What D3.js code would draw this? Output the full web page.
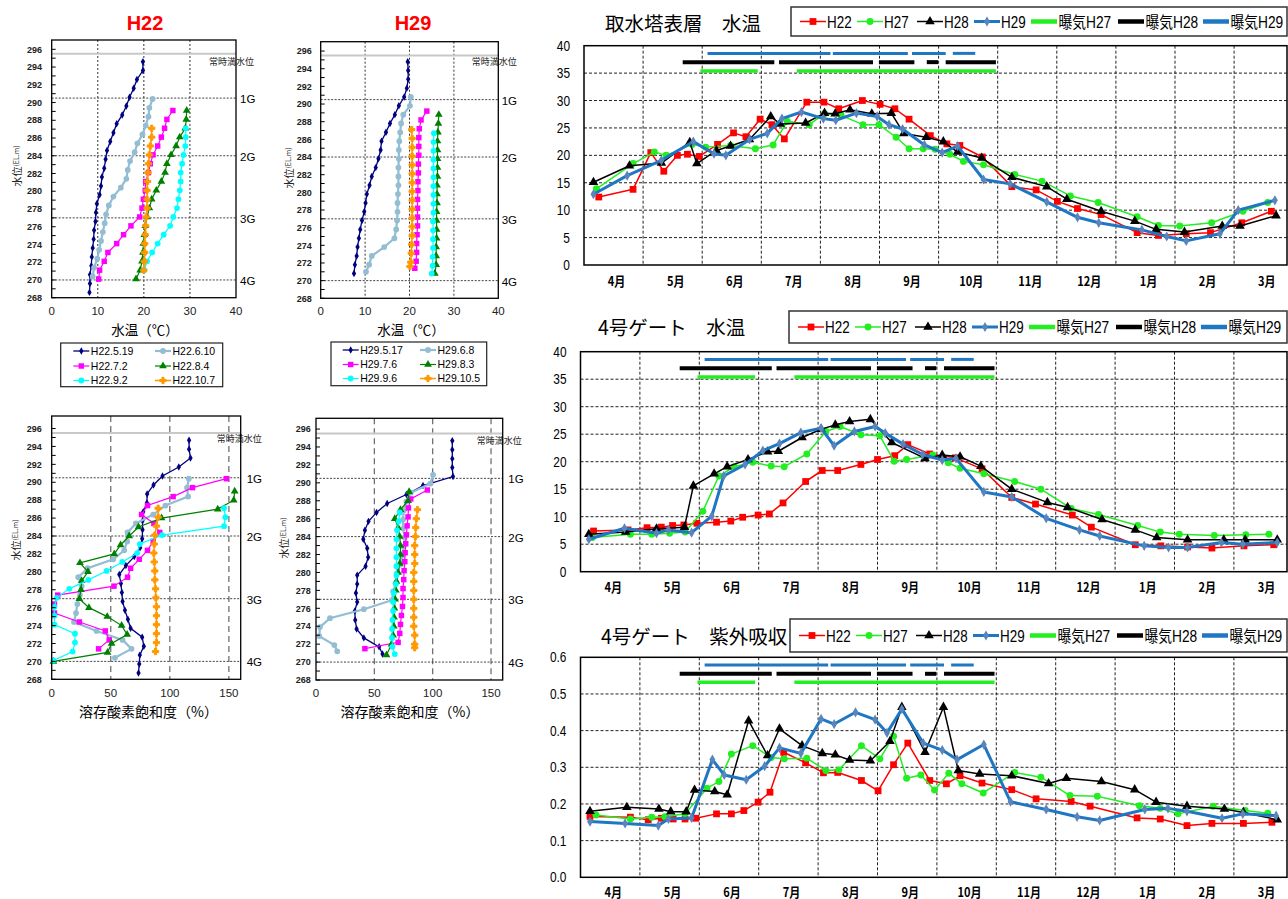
<!DOCTYPE html>
<html>
<head>
<meta charset="utf-8">
<script src="https://cdn.jsdelivr.net/npm/d3@7"></script>
<style>
  body { margin: 0; background: #fff; }
  svg { display: block; }
</style>
</head>
<body>
<script>
// ---------- Vertical profiles (elevation EL.m vs value) ----------
const gateNames = ['1G', '2G', '3G', '4G'];
const gateLevels = [290.5, 284, 277, 270];
const fullWaterLevel = 295.5;
const elevTicks = [268, 270, 272, 274, 276, 278, 280, 282, 284, 286, 288, 290, 292, 294, 296];

const h22Dates = ['H22.5.19', 'H22.6.10', 'H22.7.2', 'H22.8.4', 'H22.9.2', 'H22.10.7'];
const h29Dates = ['H29.5.17', 'H29.6.8', 'H29.7.6', 'H29.8.3', 'H29.9.6', 'H29.10.5'];

// H22 water temperature profiles
const h22TempElev = [
  [294.6,293.6,292.6,291.6,290.6,289.6,288.6,287.6,286.6,285.6,284.6,283.6,282.6,281.6,280.6,279.6,278.6,277.6,276.6,275.6,274.6,273.6,272.6,271.6,270.6,269.6,268.6],
  [290.4,289.4,288.4,287.4,286.4,285.4,284.4,283.4,282.4,281.4,280.4,279.4,278.4,277.4,276.4,275.4,274.4,273.4,272.4,271.4,270.4],
  [289.1,288.1,287.1,286.1,285.1,284.1,283.1,282.1,281.1,280.1,279.1,278.1,277.1,276.1,275.1,274.1,273.1,272.1,271.1,270.1],
  [289.1,288.1,287.1,286.1,285.1,284.1,283.1,282.1,281.1,280.1,279.1,278.1,277.1,276.1,275.1,274.1,273.1,272.1,271.1,270.1],
  [287.1,286.1,285.1,284.1,283.1,282.1,281.1,280.1,279.1,278.1,277.1,276.1,275.1,274.1,273.1,272.1,271.1],
  [287.1,286.1,285.1,284.1,283.1,282.1,281.1,280.1,279.1,278.1,277.1,276.1,275.1,274.1,273.1,272.1,271.1]
];
const h22Temp = [
  [19.8,19.8,18.5,17.8,16.9,16.2,15.3,14.1,13.4,12.7,12.0,11.7,11.4,10.9,10.7,10.4,9.8,9.6,9.5,9.2,9.1,8.9,8.7,8.6,8.3,8.3,8.2],
  [21.9,21.2,21.0,20.4,19.7,18.6,18.0,17.0,16.5,16.2,15.0,13.4,12.4,11.8,11.5,11.1,10.7,10.3,9.9,9.2,8.9],
  [26.3,25.0,24.5,23.8,23.0,22.0,21.4,21.0,20.4,20.3,19.9,19.6,19.1,17.2,15.6,14.1,12.2,11.4,10.4,10.2],
  [29.3,29.2,29.0,27.8,27.0,25.9,25.0,24.6,23.8,22.7,21.7,21.2,20.7,20.3,20.1,19.9,19.8,19.6,19.2,18.3],
  [29.1,29.1,29.0,28.6,28.3,28.0,28.0,27.8,27.5,27.2,26.4,25.7,24.3,23.0,21.8,20.7,20.1],
  [21.7,21.7,21.4,21.2,21.0,20.9,20.8,20.7,20.7,20.7,20.5,20.4,20.3,20.2,20.2,20.1,20.0]
];

// H29 water temperature profiles
const h29TempElev = [
  [294.8,293.8,292.8,291.8,290.8,289.8,288.8,287.8,286.8,285.8,284.8,283.8,282.8,281.8,280.8,279.8,278.8,277.8,276.8,275.8,274.8,273.8,272.8,271.8,270.8],
  [290.8,289.8,288.8,287.8,286.8,285.8,284.8,283.8,282.8,281.8,280.8,279.8,278.8,277.8,276.8,275.8,274.8,273.8,272.8,271.8,271.0],
  [289.2,288.2,287.2,286.2,285.2,284.2,283.2,282.2,281.2,280.2,279.2,278.2,277.2,276.2,275.2,274.2,273.2,272.2,271.4],
  [288.8,287.8,286.8,285.8,284.8,283.8,282.8,281.8,280.8,279.8,278.8,277.8,276.8,275.8,274.8,273.8,272.8,271.8,270.8],
  [286.7,285.7,284.7,283.7,282.7,281.7,280.7,279.7,278.7,277.7,276.7,275.7,274.7,273.7,272.7,271.7,270.8],
  [287.1,286.1,285.1,284.1,283.1,282.1,281.1,280.1,279.1,278.1,277.1,276.1,275.1,274.1,273.1,272.1,271.6]
];
const h29Temp = [
  [19.6,19.7,19.7,19.4,18.8,17.6,16.7,15.6,14.7,13.7,13.5,13.0,12.4,11.5,11.0,10.4,10.1,9.8,9.3,8.9,8.6,8.3,8.1,7.7,7.5],
  [20.3,20.1,18.6,18.1,17.9,17.7,17.6,17.6,17.5,17.5,17.5,17.4,17.3,17.3,17.2,17.0,16.6,14.3,11.5,10.9,10.2],
  [23.9,22.6,22.2,22.1,22.1,22.1,22.0,22.0,21.9,21.9,21.8,21.8,21.8,21.8,21.7,21.6,21.6,21.5,21.2],
  [26.6,26.5,26.4,26.3,26.3,26.3,26.3,26.3,26.2,26.2,26.2,26.1,26.1,26.1,26.1,26.0,26.0,26.0,25.7],
  [25.5,25.4,25.4,25.4,25.4,25.4,25.4,25.4,25.4,25.4,25.3,25.3,25.3,25.3,25.2,25.2,25.0],
  [20.5,20.6,20.6,20.6,20.6,20.6,20.6,20.6,20.6,20.6,20.6,20.6,20.6,20.5,20.4,20.3,20.1]
];

// H22 dissolved oxygen saturation profiles (%)
const h22DoElev = [
  [294.7,293.7,292.7,291.7,290.7,289.7,288.7,287.7,286.7,285.7,284.7,283.7,282.7,281.7,280.7,279.7,278.7,277.7,276.7,275.7,274.7,273.7,272.7,271.7,270.7,269.7,268.7],
  [290.4,289.4,288.4,287.4,286.4,285.4,284.4,283.4,282.4,281.4,280.4,279.4,278.4,277.4,276.4,275.4,274.4,273.4,272.4,271.4,270.4],
  [290.4,289.4,288.4,287.4,286.4,285.4,284.4,283.4,282.4,281.4,280.4,279.4,278.4,277.4,276.4,275.4,274.4,273.4,272.4,271.4],
  [289.0,288.0,287.0,286.0,285.0,284.0,283.0,282.0,281.0,280.0,279.0,278.0,277.0,276.0,275.0,274.0,273.0,272.0,271.0,270.0],
  [287.1,286.1,285.1,284.1,283.1,282.1,281.1,280.1,279.1,278.1,277.1,276.1,275.1,274.1,273.1,272.1,271.1,270.1],
  [287.1,286.1,285.1,284.1,283.1,282.1,281.1,280.1,279.1,278.1,277.1,276.1,275.1,274.1,273.1,272.1,271.1]
];
const h22Do = [
  [116.3,116.3,117.5,107.6,93.8,86.2,80.8,80.6,77.5,76.9,76.9,76.6,74.9,69.9,62.8,57.2,58.6,59.4,60.0,62.0,64.5,66.8,76.6,78.0,74.6,74.1,73.5],
  [116.1,114.6,115.5,96.3,85.9,71.3,64.2,63.9,61.4,52.1,30.4,22.5,25.4,23.9,21.7,20.6,18.9,38.0,60.0,67.6,53.5],
  [147.9,119.2,102.8,81.1,76.1,86.5,91.5,85.9,81.1,74.1,66.8,64.2,52.7,5.1,2.3,2.3,23.4,45.4,48.7,39.7],
  [154.9,154.1,140.6,93.0,73.5,65.6,58.3,53.0,23.9,30.7,25.4,24.8,23.4,31.5,47.0,59.2,63.9,50.7,47.3,1.4],
  [145.9,147.0,145.9,93.5,74.6,72.4,59.7,46.5,31.0,14.9,4.2,2.3,2.3,2.3,19.7,19.7,17.7,1.4],
  [90.1,90.1,88.7,87.3,86.8,86.5,86.8,87.3,87.3,87.9,88.2,88.7,88.7,88.7,88.7,88.7,87.9]
];

// H29 dissolved oxygen saturation profiles (%)
const h29DoElev = [
  [294.7,293.7,292.7,291.7,290.7,289.7,288.7,287.7,286.7,285.7,284.7,283.7,282.7,281.7,280.7,279.7,278.7,277.7,276.7,275.7,274.7,273.7,272.7,271.7,270.9],
  [290.9,289.9,288.9,287.9,286.9,285.9,284.9,283.9,282.9,281.9,280.9,279.9,278.9,277.9,276.9,275.9,274.9,273.9,272.9,271.9,271.2],
  [289.2,288.2,287.2,286.2,285.2,284.2,283.2,282.2,281.2,280.2,279.2,278.2,277.2,276.2,275.2,274.2,273.2,272.2,271.5],
  [289.0,288.0,287.0,286.0,285.0,284.0,283.0,282.0,281.0,280.0,279.0,278.0,277.0,276.0,275.0,274.0,273.0,272.0,270.8],
  [286.7,285.7,284.7,283.7,282.7,281.7,280.7,279.7,278.7,277.7,276.7,275.7,274.7,273.7,272.7,271.7,270.9],
  [287.0,286.0,285.0,284.0,283.0,282.0,281.0,280.0,279.0,278.0,277.0,276.0,275.0,274.0,273.0,272.0,271.6]
];
const h29Do = [
  [116.8,116.8,116.8,116.8,117.4,91.7,77.5,61.0,51.9,45.0,41.9,40.5,43.9,44.7,42.5,35.3,35.3,34.2,35.3,33.3,33.6,34.8,41.0,54.1,57.0],
  [100.3,98.0,81.2,77.5,75.2,74.6,74.6,76.1,75.2,74.1,72.4,69.5,68.9,66.1,65.0,41.0,12.0,3.4,2.8,15.7,18.2],
  [95.4,81.2,79.2,78.9,78.1,77.5,76.9,76.4,76.1,75.5,75.2,74.6,74.6,74.1,73.2,72.4,71.8,70.4,41.9],
  [79.8,78.9,72.4,67.5,70.4,71.8,72.4,72.4,71.8,70.4,68.9,68.4,67.8,67.2,66.9,66.7,66.1,64.7,60.4],
  [71.8,70.9,69.5,68.9,68.9,68.9,68.9,68.9,68.4,66.7,66.1,66.1,65.5,65.2,65.2,65.5,67.5],
  [86.9,86.0,85.5,85.2,84.6,84.6,84.6,83.8,83.8,83.8,83.8,83.8,83.8,83.8,84.6,84.6,84.6]
];

// ---------- Yearly time series (x = months elapsed since 1 April) ----------
const months = ['4月', '5月', '6月', '7月', '8月', '9月', '10月', '11月', '12月', '1月', '2月', '3月'];
const seriesNames = ['H22', 'H27', 'H28', 'H29'];
const aerationNames = ['曝気H27', '曝気H28', '曝気H29'];

// aeration periods (start, end) in months since 1 April
const aerationH27 = [[1.97, 2.94], [3.60, 6.97]];
const aerationH28 = [[1.67, 3.22], [3.30, 4.89], [4.99, 5.59], [5.80, 5.99], [6.12, 6.97]];
const aerationH29 = [[2.09, 4.17], [4.21, 5.48], [5.55, 6.12], [6.24, 6.62]];

// intake tower, surface layer water temperature (℃)
const towerH22x = [0.25,0.83,1.13,1.35,1.58,1.75,1.95,2.26,2.53,2.74,2.98,3.18,3.39,3.77,4.06,4.31,4.71,5.01,5.26,5.50,5.86,6.14,6.36,6.74,7.24,7.65,8.01,8.35,8.75,9.36,9.72,10.19,10.6,11.13,11.63];
const towerH22 = [12.4,13.8,20.5,17.1,20.0,20.2,19.8,22.0,24.1,23.4,26.6,25.6,23.0,29.7,29.7,28.5,30.0,29.3,28.5,26.6,23.6,22.1,21.8,19.7,14.3,13.7,11.6,10.3,9.2,5.9,5.4,5.7,5.9,7.7,9.8];
const towerH27x = [0.21,0.83,1.19,1.39,1.83,2.06,2.48,2.90,3.20,3.44,3.81,4.07,4.35,4.72,4.99,5.28,5.50,5.74,5.94,6.19,6.42,6.76,7.29,7.75,8.23,8.70,9.36,9.72,10.08,10.62,11.15,11.57];
const towerH27 = [13.9,18.5,20.6,20.0,22.0,21.5,21.8,21.2,21.9,26.2,25.6,27.6,27.3,25.6,25.6,23.3,21.2,21.2,21.1,20.2,18.9,18.3,16.5,15.3,12.6,11.4,8.8,7.2,7.1,7.7,9.8,11.4];
const towerH28x = [0.16,0.77,1.31,1.79,1.91,2.24,2.48,2.80,3.16,3.32,3.75,4.07,4.25,4.50,4.87,5.20,5.41,5.79,6.08,6.32,6.73,7.24,7.83,8.17,8.75,9.32,9.68,10.16,10.8,11.1,11.71];
const towerH28 = [15.1,18.1,18.6,22.4,18.5,20.9,21.7,22.9,27.1,25.7,25.9,27.7,27.6,28.3,27.6,27.7,24.0,23.3,22.5,20.6,19.5,16.0,14.3,12.0,9.8,8.0,6.5,6.0,7.1,7.1,9.0];
const towerH29x = [0.16,0.73,1.31,1.85,2.2,2.40,2.80,3.10,3.35,3.68,4.05,4.26,4.61,4.96,5.16,5.39,5.76,6.06,6.32,6.76,7.21,7.83,8.35,8.71,9.44,9.86,10.19,10.76,11.07,11.69];
const towerH29 = [12.9,16.3,19.1,22.5,20.3,20.0,22.9,24.0,26.7,27.9,26.7,26.4,27.7,27.1,25.6,24.8,21.9,20.5,21.7,15.6,14.8,11.5,8.7,7.7,6.4,5.2,4.4,5.7,10.0,11.8];

// No.4 gate water temperature (℃)
const gateTempH22x = [0.22,0.80,1.12,1.36,1.55,1.74,1.96,2.29,2.53,2.73,2.99,3.18,3.41,3.79,4.07,4.33,4.72,5.0,5.29,5.51,5.88,6.31,6.76,7.26,7.66,8.28,8.6,9.34,9.77,10.22,10.63,11.17,11.67];
const gateTempH22 = [7.4,7.6,8.0,8.1,8.4,8.5,8.8,9.0,9.2,9.9,10.3,10.5,12.5,16.4,18.4,18.4,19.5,20.4,21.1,23.1,21.4,20.7,18.7,13.5,12.3,10.3,8.1,4.9,4.7,4.5,4.3,4.7,4.9];
const gateTempH27x = [0.2,0.84,1.2,1.5,1.76,2.06,2.33,2.59,2.90,3.21,3.43,3.81,4.13,4.37,4.72,5.04,5.28,5.49,5.93,6.19,6.39,6.79,7.31,7.75,8.26,8.72,9.38,9.76,10.08,10.67,11.2,11.59];
const gateTempH27 = [6.2,6.8,6.8,7.0,7.2,11.0,17.4,19.1,19.9,19.2,19.1,21.4,25.5,26.4,24.9,24.7,20.1,20.4,21.2,19.8,18.8,17.8,16.4,15.0,11.5,10.4,8.4,7.2,6.8,6.6,6.7,6.8];
const gateTempH28x = [0.14,0.76,1.28,1.75,1.90,2.25,2.47,2.82,3.15,3.33,3.73,4.05,4.29,4.53,4.88,5.24,5.80,6.09,6.39,6.74,7.26,7.86,8.20,8.78,9.34,9.70,10.22,10.83,11.19,11.73];
const gateTempH28 = [6.8,7.2,7.8,8.1,15.6,17.8,19.1,20.4,21.8,21.9,24.4,25.9,26.7,27.3,27.7,23.5,20.6,21.2,20.9,19.2,15.0,12.6,11.7,9.5,7.6,6.2,5.8,5.8,5.8,5.8];
const gateTempH29x = [0.14,0.74,1.28,1.48,1.87,2.21,2.41,2.77,3.07,3.35,3.71,4.05,4.27,4.61,4.96,5.13,5.43,5.76,6.09,6.32,6.79,7.26,7.84,8.40,8.74,9.49,9.90,10.22,10.79,11.15,11.73];
const gateTempH29 = [5.9,7.9,7.0,7.6,7.1,10.1,17.4,19.5,22.0,23.3,25.3,26.1,22.9,25.5,26.4,25.2,23.2,21.3,20.3,20.6,14.5,13.6,9.7,7.6,6.5,4.7,4.4,4.4,5.3,5.0,5.3];

// No.4 gate UV absorbance
const gateUvH22x = [0.16,0.84,1.14,1.36,1.56,1.76,1.94,2.29,2.54,2.75,2.99,3.19,3.42,3.79,4.09,4.33,4.73,5.01,5.27,5.51,5.88,6.16,6.39,6.76,7.26,7.67,8.26,8.58,9.37,9.76,10.21,10.63,11.16,11.64];
const gateUvH22 = [0.166,0.164,0.157,0.161,0.159,0.159,0.161,0.173,0.173,0.182,0.205,0.232,0.341,0.312,0.285,0.286,0.264,0.236,0.307,0.366,0.264,0.255,0.277,0.257,0.239,0.214,0.207,0.194,0.162,0.159,0.141,0.147,0.147,0.150];
const gateUvH27x = [0.26,0.84,1.20,1.42,1.76,2.13,2.33,2.54,2.90,3.21,3.43,3.81,4.13,4.35,4.73,5.04,5.27,5.49,5.73,5.96,6.20,6.42,6.78,7.31,7.75,8.24,8.70,9.41,9.76,10.06,10.65,11.19,11.57];
const gateUvH27 = [0.170,0.159,0.164,0.165,0.173,0.243,0.261,0.336,0.359,0.327,0.323,0.325,0.291,0.293,0.359,0.323,0.385,0.270,0.279,0.238,0.284,0.255,0.230,0.286,0.273,0.223,0.221,0.195,0.188,0.173,0.194,0.182,0.175];
const gateUvH28x = [0.16,0.78,1.32,1.52,1.78,1.92,2.26,2.47,2.83,3.15,3.35,3.73,4.07,4.29,4.53,4.88,5.21,5.41,5.80,6.11,6.36,6.72,7.26,7.88,8.18,8.77,9.33,9.69,10.21,10.84,11.16,11.73];
const gateUvH28 = [0.180,0.191,0.186,0.179,0.179,0.238,0.234,0.225,0.427,0.332,0.405,0.359,0.338,0.334,0.320,0.318,0.371,0.464,0.341,0.464,0.291,0.282,0.277,0.256,0.270,0.261,0.239,0.205,0.194,0.186,0.177,0.157];
const gateUvH29x = [0.16,0.75,1.31,1.48,1.87,2.22,2.42,2.79,3.10,3.35,3.71,4.05,4.27,4.63,4.96,5.16,5.41,5.77,6.09,6.34,6.79,7.24,7.84,8.36,8.74,9.50,9.89,10.21,10.80,11.15,11.71];
const gateUvH29 = [0.152,0.147,0.141,0.159,0.162,0.321,0.279,0.266,0.303,0.353,0.338,0.432,0.418,0.450,0.430,0.394,0.459,0.366,0.347,0.321,0.362,0.206,0.185,0.165,0.155,0.185,0.188,0.180,0.161,0.173,0.168];

// ---------- drawing ----------
const LATIN = '"Liberation Sans", Arial, "Noto Sans CJK JP", sans-serif';
const CJK = '"Noto Sans CJK JP", "Liberation Sans", sans-serif';

const svg = d3.select('body').append('svg')
  .attr('width', 1288).attr('height', 899)
  .style('font-family', LATIN);
svg.append('rect').attr('width', 1288).attr('height', 899).attr('fill', '#fff');

function text(g, x, y, str, o = {}) {
  return g.append('text')
    .attr('transform', `translate(${x},${y}) scale(${o.sx || 1},1)`)
    .attr('font-size', o.size || 12)
    .attr('font-family', o.family || LATIN)
    .attr('font-weight', o.weight || 'normal')
    .attr('fill', o.fill || '#000')
    .attr('text-anchor', o.anchor || 'start')
    .text(str);
}

const profileStyles = [
  { color: '#000080', symbol: d3.symbolDiamond, size: 16, width: 1.3 },
  { color: '#92BDD2', symbol: d3.symbolCircle, size: 26, width: 2.2 },
  { color: '#FF00FF', symbol: d3.symbolSquare, size: 30, width: 1.2 },
  { color: '#008000', symbol: d3.symbolTriangle, size: 26, width: 1.2 },
  { color: '#00FFFF', symbol: d3.symbolCircle, size: 26, width: 1.2 },
  { color: '#FF9900', symbol: d3.symbolCross, size: 22, width: 1.5 }
];

function profilePanel(p) {
  const g = svg.append('g');
  const x = d3.scaleLinear().domain([0, p.xMax]).range([p.left, p.right]);
  const y = d3.scaleLinear().domain([268, p.yTop]).range([p.bottom, p.top]);

  // vertical grid
  p.grid.forEach(v => {
    g.append('line').attr('x1', x(v)).attr('x2', x(v)).attr('y1', p.top).attr('y2', p.bottom)
      .attr('stroke', p.gridColor).attr('stroke-width', p.gridWidth).attr('stroke-dasharray', p.gridDash);
  });
  // gate levels
  gateLevels.forEach((lv, i) => {
    g.append('line').attr('x1', p.left).attr('x2', p.right).attr('y1', y(lv)).attr('y2', y(lv))
      .attr('stroke', '#444').attr('stroke-width', 1).attr('stroke-dasharray', '2,1.5');
    text(g, p.gLabelX, y(lv) + 5, gateNames[i], { size: 11.5 });
  });
  // normal full water level
  g.append('line').attr('x1', p.left).attr('x2', p.right).attr('y1', y(fullWaterLevel)).attr('y2', y(fullWaterLevel))
    .attr('stroke', '#c8c8c8').attr('stroke-width', 2);
  text(g, p.fullX, p.fullY, '常時満水位', { size: 9, family: CJK, fill: '#222' });

  // profiles
  const line = d3.line();
  p.elev.forEach((el, i) => {
    const st = profileStyles[i];
    const pts = el.map((e, j) => [x(p.vals[i][j]), y(e)]);
    g.append('path').attr('d', line(pts)).attr('fill', 'none')
      .attr('stroke', st.color).attr('stroke-width', st.width);
    g.selectAll(null).data(pts).enter().append('path')
      .attr('d', d3.symbol().type(st.symbol).size(st.size))
      .attr('transform', d => `translate(${d[0]},${d[1]})`)
      .attr('fill', st.color).attr('stroke', st.symbol === d3.symbolCross ? st.color : 'none');
  });

  // frame
  g.append('rect').attr('x', p.left).attr('y', p.top).attr('width', p.right - p.left).attr('height', p.bottom - p.top)
    .attr('fill', 'none').attr('stroke', '#000').attr('stroke-width', 1.3);

  // y axis: minor ticks every metre, labels every 2 m
  d3.range(268, 297, 1).forEach(v => {
    g.append('line').attr('x1', p.left).attr('x2', p.left + 4).attr('y1', y(v)).attr('y2', y(v))
      .attr('stroke', '#000').attr('stroke-width', 1);
  });
  elevTicks.forEach(v => {
    text(g, p.yLabelRight, y(v) + 3.2, v, { size: 9, weight: 'bold', anchor: 'end', fill: '#222' });
  });
  // x axis labels
  p.xTicks.forEach(v => {
    text(g, x(v), p.xTickY, v, { size: 11.5, anchor: 'middle', fill: '#222' });
  });

  // y axis title
  const yt = g.append('text').attr('transform', `translate(${p.yTitle[0]},${p.yTitle[1]}) rotate(-90)`)
    .attr('text-anchor', 'middle').attr('dominant-baseline', 'central').attr('font-family', CJK).attr('fill', '#222');
  yt.append('tspan').attr('font-size', 10).text('水位');
  yt.append('tspan').attr('font-size', 7).text('(EL.m)');

  // x axis title
  text(g, p.xTitle[0], p.xTitle[1], p.xTitleText, { size: p.xTitleSize, family: CJK, anchor: 'middle' });

  if (p.title) {
    text(g, p.title[0], p.title[1], p.titleText, { size: 20, weight: 'bold', fill: '#ff0000', anchor: 'middle' });
  }
}

profilePanel({
  left: 51.7, right: 236, top: 40, bottom: 297.7, yTop: 297.05, xMax: 40,
  xTicks: [0, 10, 20, 30, 40], grid: [10, 20, 30], gridColor: '#333', gridWidth: 1, gridDash: '2,2',
  gLabelX: 240, fullX: 209, fullY: 65, yLabelRight: 42, xTickY: 315,
  elev: h22TempElev, vals: h22Temp,
  yTitle: [15.5, 166], xTitle: [145, 335], xTitleText: '水温（℃）', xTitleSize: 13.5,
  title: [145, 30], titleText: 'H22'
});
profilePanel({
  left: 320.7, right: 498.3, top: 41.7, bottom: 298.3, yTop: 297.06, xMax: 40,
  xTicks: [0, 10, 20, 30, 40], grid: [10, 20, 30], gridColor: '#333', gridWidth: 1, gridDash: '2,2',
  gLabelX: 501.7, fullX: 471.7, fullY: 65, yLabelRight: 311.7, xTickY: 315,
  elev: h29TempElev, vals: h29Temp,
  yTitle: [287.5, 168], xTitle: [411, 335], xTitleText: '水温（℃）', xTitleSize: 13.5,
  title: [413, 30], titleText: 'H29'
});
profilePanel({
  left: 51.7, right: 240.7, top: 416, bottom: 679.3, yTop: 297.4, xMax: 160,
  xTicks: [0, 50, 100, 150], grid: [50, 100, 150], gridColor: '#666', gridWidth: 1.2, gridDash: '6,4',
  gLabelX: 246.7, fullX: 216.7, fullY: 442, yLabelRight: 41.7, xTickY: 697,
  elev: h22DoElev, vals: h22Do,
  yTitle: [14.5, 540], xTitle: [148.5, 717], xTitleText: '溶存酸素飽和度（%）', xTitleSize: 14
});
profilePanel({
  left: 316, right: 502.7, top: 418.3, bottom: 680, yTop: 297.2, xMax: 160,
  xTicks: [0, 50, 100, 150], grid: [50, 100, 150], gridColor: '#666', gridWidth: 1.2, gridDash: '6,4',
  gLabelX: 508.3, fullX: 476.7, fullY: 444, yLabelRight: 310.7, xTickY: 697,
  elev: h29DoElev, vals: h29Do,
  yTitle: [282.5, 538], xTitle: [410, 717], xTitleText: '溶存酸素飽和度（%）', xTitleSize: 14
});

// legends of the profile panels
function profileLegend(x0, y0, w, h, rows, cols, names) {
  const g = svg.append('g');
  g.append('rect').attr('x', x0).attr('y', y0).attr('width', w).attr('height', h)
    .attr('fill', '#fff').attr('stroke', '#222').attr('stroke-width', 1.2);
  names.forEach((nm, i) => {
    const st = profileStyles[i];
    const cx = cols[i % 2], cy = rows[Math.floor(i / 2)];
    g.append('line').attr('x1', cx).attr('x2', cx + 16).attr('y1', cy).attr('y2', cy)
      .attr('stroke', st.color).attr('stroke-width', st.width);
    g.append('path').attr('d', d3.symbol().type(st.symbol).size(st.size)())
      .attr('transform', `translate(${cx + 8},${cy})`).attr('fill', st.color)
      .attr('stroke', st.symbol === d3.symbolCross ? st.color : 'none');
    text(g, cx + 17.5, cy + 3.8, nm, { size: 10.5 });
  });
}
profileLegend(60.7, 343, 162, 43.7, [351, 366, 380.5], [73.3, 155], h22Dates);
profileLegend(331, 342, 155.7, 43.7, [350, 364.5, 378.5], [342.7, 420], h29Dates);

// ---------- time series panels ----------
const seriesStyles = [
  { color: '#FF0000', symbol: d3.symbolSquare, size: 46, width: 1.5, mark: '#FF0000' },
  { color: '#22EE22', symbol: d3.symbolCircle, size: 38, width: 1.5, mark: '#22EE22' },
  { color: '#000000', symbol: d3.symbolTriangle, size: 40, width: 1.5, mark: '#000000' },
  { color: '#1F77C4', symbol: d3.symbolDiamond, size: 30, width: 3, mark: '#5A84BC' }
];
const aerationStyles = [
  { color: '#22EE22', width: 3.5 },
  { color: '#000000', width: 4 },
  { color: '#1F77C4', width: 3 }
];

function seriesPanel(p) {
  const g = svg.append('g');
  const monthW = p.monthW;
  const x = d3.scaleLinear().domain([0, 12]).range([p.left, p.left + 12 * monthW]);
  const y = d3.scaleLinear().domain([0, p.yMax]).range([p.bottom, p.top]);
  const right = 1287;

  // horizontal grid
  p.yTicks.forEach(v => {
    if (v > 0 && v < p.yMax) {
      g.append('line').attr('x1', p.left).attr('x2', right).attr('y1', y(v)).attr('y2', y(v))
        .attr('stroke', '#222').attr('stroke-width', 1).attr('stroke-dasharray', '3,2');
    }
    text(g, p.left - 14, y(v) + 5, p.fmt(v), { size: 14, anchor: 'end', sx: 0.85 });
  });
  // month boundaries
  d3.range(1, 12).forEach(m => {
    g.append('line').attr('x1', x(m)).attr('x2', x(m)).attr('y1', p.top).attr('y2', p.bottom)
      .attr('stroke', '#222').attr('stroke-width', 1).attr('stroke-dasharray', '3,2');
  });
  months.forEach((m, i) => {
    text(g, x(i + 0.5) + 3, p.monthY, m, { size: 13, weight: 'bold', anchor: 'middle', sx: 0.85, family: CJK });
  });

  // aeration periods
  [aerationH27, aerationH28, aerationH29].forEach((segs, i) => {
    segs.forEach(s => {
      g.append('line').attr('x1', x(s[0])).attr('x2', x(s[1]))
        .attr('y1', y(p.aerLevels[i])).attr('y2', y(p.aerLevels[i]))
        .attr('stroke', aerationStyles[i].color).attr('stroke-width', aerationStyles[i].width);
    });
  });

  // series
  const line = d3.line();
  p.series.forEach((s, i) => {
    const st = seriesStyles[i];
    const pts = s.x.map((t, j) => [x(t), y(s.y[j])]);
    g.append('path').attr('d', line(pts)).attr('fill', 'none')
      .attr('stroke', st.color).attr('stroke-width', st.width).attr('stroke-linejoin', 'round');
    g.selectAll(null).data(pts).enter().append('path')
      .attr('d', d3.symbol().type(st.symbol).size(st.size))
      .attr('transform', d => `translate(${d[0]},${d[1]})`)
      .attr('fill', st.mark);
  });

  // frame
  g.append('rect').attr('x', p.left).attr('y', p.top).attr('width', right - p.left).attr('height', p.bottom - p.top)
    .attr('fill', 'none').attr('stroke', '#000').attr('stroke-width', 1.5);

  // title
  text(g, p.titleX, p.titleY, p.title, { size: 19.5, family: CJK });

  // legend
  const lg = g.append('g');
  lg.append('rect').attr('x', p.legX).attr('y', p.legY).attr('width', right - p.legX).attr('height', p.legH)
    .attr('fill', '#fff').attr('stroke', '#333').attr('stroke-width', 1.5);
  const offs = [9, 66, 126, 183, 240, 327, 412];
  const ly = p.legY + p.legH / 2;
  seriesNames.forEach((nm, i) => {
    const st = seriesStyles[i];
    const lx = p.legX + offs[i];
    lg.append('line').attr('x1', lx).attr('x2', lx + 26).attr('y1', ly).attr('y2', ly)
      .attr('stroke', st.color).attr('stroke-width', st.width);
    lg.append('path').attr('d', d3.symbol().type(st.symbol).size(st.size)())
      .attr('transform', `translate(${lx + 13},${ly})`).attr('fill', st.mark);
    text(lg, lx + 27, ly + 6, nm, { size: 16, sx: 0.84 });
  });
  aerationNames.forEach((nm, i) => {
    const st = aerationStyles[i];
    const lx = p.legX + offs[i + 4];
    lg.append('line').attr('x1', lx).attr('x2', lx + 26).attr('y1', ly).attr('y2', ly)
      .attr('stroke', st.color).attr('stroke-width', 4.5);
    text(lg, lx + 27.5, ly + 6, nm, { size: 16, sx: 0.86 });
  });
}

const fmtInt = d3.format('d');
const fmtDec = d3.format('.1f');

seriesPanel({
  left: 584, monthW: 59.1, top: 45.7, bottom: 265, yMax: 40,
  yTicks: [0, 5, 10, 15, 20, 25, 30, 35, 40], fmt: fmtInt, monthY: 286,
  aerLevels: [35.4, 37.0, 38.6],
  series: [
    { x: towerH22x, y: towerH22 }, { x: towerH27x, y: towerH27 },
    { x: towerH28x, y: towerH28 }, { x: towerH29x, y: towerH29 }
  ],
  title: '取水塔表層　水温', titleX: 605, titleY: 31,
  legX: 791, legY: 7, legH: 29
});
seriesPanel({
  left: 580.5, monthW: 59.4, top: 351.7, bottom: 571.7, yMax: 40,
  yTicks: [0, 5, 10, 15, 20, 25, 30, 35, 40], fmt: fmtInt, monthY: 592,
  aerLevels: [35.4, 37.0, 38.6],
  series: [
    { x: gateTempH22x, y: gateTempH22 }, { x: gateTempH27x, y: gateTempH27 },
    { x: gateTempH28x, y: gateTempH28 }, { x: gateTempH29x, y: gateTempH29 }
  ],
  title: '4号ゲート　水温', titleX: 598, titleY: 335,
  legX: 789, legY: 311, legH: 32
});
seriesPanel({
  left: 580.5, monthW: 59.4, top: 657.3, bottom: 877.3, yMax: 0.6,
  yTicks: [0, 0.1, 0.2, 0.3, 0.4, 0.5, 0.6], fmt: fmtDec, monthY: 897,
  aerLevels: [0.532, 0.555, 0.579],
  series: [
    { x: gateUvH22x, y: gateUvH22 }, { x: gateUvH27x, y: gateUvH27 },
    { x: gateUvH28x, y: gateUvH28 }, { x: gateUvH29x, y: gateUvH29 }
  ],
  title: '4号ゲート　紫外吸収', titleX: 601, titleY: 644,
  legX: 790, legY: 619, legH: 33
});
</script>
</body>
</html>
